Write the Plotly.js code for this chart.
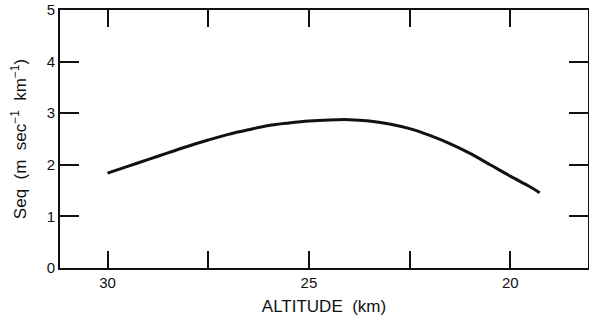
<!DOCTYPE html>
<html>
<head>
<meta charset="utf-8">
<script src="https://cdn.plot.ly/plotly-3.0.1.min.js"></script>
<style>html,body{margin:0;padding:0;background:#fff;}#chart{width:589px;height:322px;}</style>
</head>
<body>
<div id="chart"></div>
<script>
const altitude = [30, 29.5, 29, 28.5, 28, 27.5, 27, 26.5, 26, 25.5, 25, 24.5, 24, 23.5, 23, 22.5, 22, 21.5, 21, 20.5, 20, 19.5, 19.27];
const seq = [1.84, 1.97, 2.10, 2.23, 2.36, 2.48, 2.59, 2.68, 2.76, 2.81, 2.85, 2.87, 2.875, 2.85, 2.79, 2.70, 2.57, 2.41, 2.22, 2.00, 1.78, 1.57, 1.46];
const xTickVals = [30, 25, 20];
const xMinorTickVals = [27.5, 22.5];
const yTickVals = [0, 1, 2, 3, 4, 5];

const fam = 'Liberation Sans, Arial, sans-serif';
Plotly.newPlot('chart', [{
  x: altitude, y: seq, mode: 'lines', type: 'scatter',
  line: {color: '#111', width: 3, shape: 'spline', smoothing: 1},
  hoverinfo: 'skip'
}], {
  width: 589, height: 322,
  margin: {l: 60, r: 1, t: 10, b: 54},
  paper_bgcolor: '#fff', plot_bgcolor: '#fff',
  showlegend: false,
  font: {family: fam, size: 15, color: '#111'},
  xaxis: {
    range: [31.18, 18.07], tickmode: 'array', tickvals: xTickVals,
    ticks: 'inside', ticklen: 17, tickwidth: 2, tickcolor: '#111',
    minor: {tickmode: 'array', tickvals: xMinorTickVals, ticks: 'inside', ticklen: 17, tickwidth: 2, tickcolor: '#111', showgrid: false},
    showline: true, linecolor: '#111', linewidth: 2, mirror: 'ticks',
    showgrid: false, zeroline: false,
    title: {text: 'ALTITUDE  (km)', font: {family: fam, size: 17, color: '#111'}, standoff: 10},
    tickfont: {family: fam, size: 15, color: '#111'}
  },
  yaxis: {
    range: [0, 5], tickmode: 'array', tickvals: yTickVals,
    ticks: 'inside', ticklen: 19, tickwidth: 2, tickcolor: '#111',
    showline: true, linecolor: '#111', linewidth: 2, mirror: 'ticks',
    showgrid: false, zeroline: false,
    title: {text: 'Seq  (m  sec<sup>−1</sup>  km<sup>−1</sup>)', font: {family: fam, size: 17, color: '#111'}, standoff: 16},
    tickfont: {family: fam, size: 15, color: '#111'}
  }
}, {staticPlot: true});
</script>
</body>
</html>
